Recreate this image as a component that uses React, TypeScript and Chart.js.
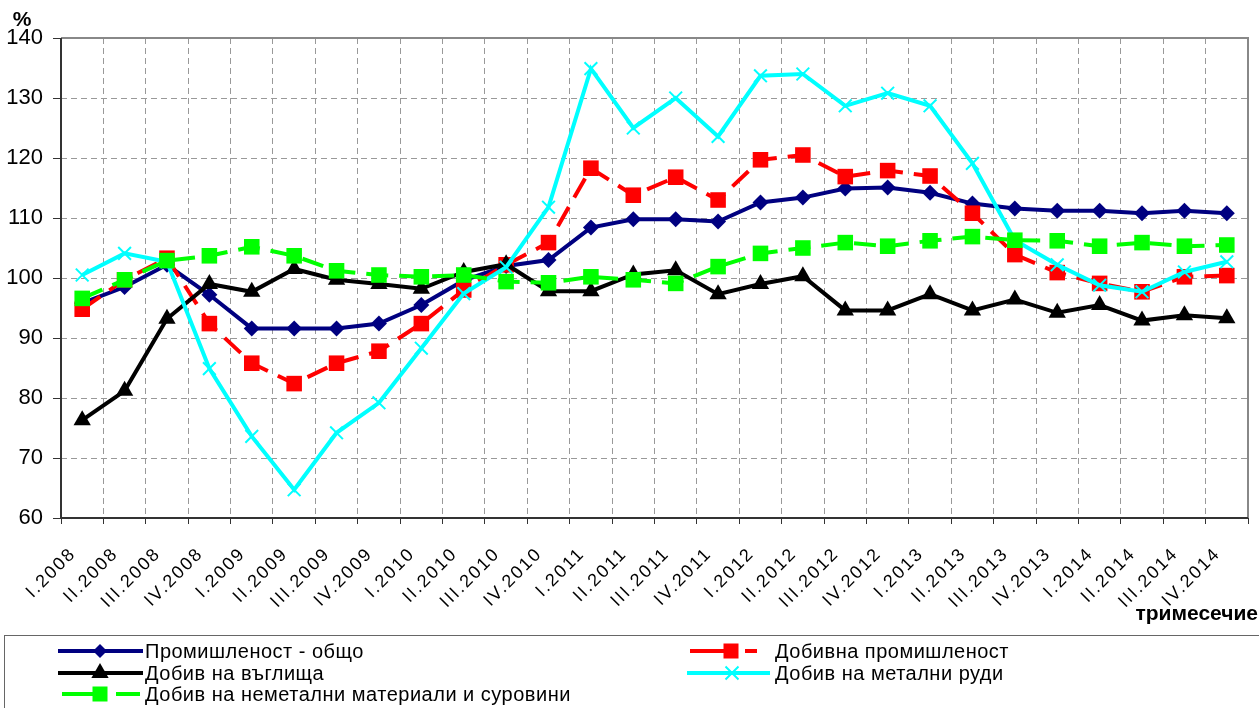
import React, { useEffect, useRef } from 'react';
import { Chart, registerables } from 'chart.js';

Chart.register(...registerables);

const quarters = ['I.2008','II.2008','III.2008','IV.2008','I.2009','II.2009','III.2009','IV.2009','I.2010','II.2010','III.2010','IV.2010','I.2011','II.2011','III.2011','IV.2011','I.2012','II.2012','III.2012','IV.2012','I.2013','II.2013','III.2013','IV.2013','I.2014','II.2014','III.2014','IV.2014'];

const industryTotal = [95.8, 98.5, 102.2, 97.2, 91.6, 91.6, 91.6, 92.4, 95.5, 99.6, 102.0, 103.0, 108.4, 109.8, 109.8, 109.4, 112.6, 113.4, 114.9, 115.1, 114.2, 112.4, 111.6, 111.2, 111.2, 110.8, 111.2, 110.8];
const miningIndustry = [94.8, 99.7, 103.3, 92.4, 85.8, 82.4, 85.8, 87.8, 92.4, 98.0, 102.2, 105.9, 118.3, 113.8, 116.8, 113.0, 119.7, 120.5, 116.9, 117.9, 117.0, 110.8, 103.9, 100.9, 99.1, 97.7, 100.2, 100.4];
const coalMining = [76.3, 81.2, 93.2, 99.0, 97.7, 101.5, 99.7, 99.0, 98.2, 101.0, 102.3, 97.8, 97.8, 100.6, 101.3, 97.3, 99.0, 100.3, 94.6, 94.6, 97.3, 94.6, 96.4, 94.2, 95.5, 92.9, 93.8, 93.3];
const metalOres = [100.5, 104.1, 102.7, 84.9, 73.6, 64.7, 74.2, 79.2, 88.3, 97.4, 101.8, 111.8, 134.9, 125.0, 130.0, 123.6, 133.7, 134.0, 128.7, 130.8, 128.7, 119.1, 106.3, 102.2, 98.8, 97.7, 101.0, 102.7];
const nonMetal = [96.6, 99.7, 102.9, 103.7, 105.2, 103.7, 101.2, 100.5, 100.2, 100.5, 99.4, 99.2, 100.2, 99.7, 99.1, 101.9, 104.1, 105.0, 105.9, 105.3, 106.2, 106.9, 106.3, 106.2, 105.3, 105.9, 105.3, 105.5];

const seriesNames = [
  'Промишленост - общо',
  'Добивна промишленост',
  'Добив на въглища',
  'Добив на метални руди',
  'Добив на неметални материали и суровини',
];
const yTicks = [60, 70, 80, 90, 100, 110, 120, 130, 140];
const yUnit = '%';
const xTitle = 'тримесечие';

const NAVY = '#000080';
const RED = '#FF0000';
const BLACK = '#000000';
const CYAN = '#00FFFF';
const GREEN = '#00FF00';
const FONT = '"Liberation Sans", Arial, sans-serif';
const GRID_DASH = [6, 4];

function diamond(ctx: CanvasRenderingContext2D, x: number, y: number, r: number, c: string) {
  ctx.fillStyle = c;
  ctx.beginPath();
  ctx.moveTo(x - r, y); ctx.lineTo(x, y - r); ctx.lineTo(x + r, y); ctx.lineTo(x, y + r);
  ctx.closePath(); ctx.fill();
}
function triangle(ctx: CanvasRenderingContext2D, x: number, y: number, r: number, c: string) {
  ctx.fillStyle = c;
  ctx.beginPath();
  ctx.moveTo(x, y - r);
  ctx.lineTo(x + r * 0.866, y + r / 2);
  ctx.lineTo(x - r * 0.866, y + r / 2);
  ctx.closePath(); ctx.fill();
}
function square(ctx: CanvasRenderingContext2D, x: number, y: number, s: number, c: string) {
  ctx.fillStyle = c;
  ctx.fillRect(x - s / 2, y - s / 2, s, s);
}
function cross(ctx: CanvasRenderingContext2D, x: number, y: number, h: number, c: string) {
  ctx.strokeStyle = c; ctx.lineWidth = 2;
  ctx.beginPath();
  ctx.moveTo(x - h, y - h); ctx.lineTo(x + h, y + h);
  ctx.moveTo(x - h, y + h); ctx.lineTo(x + h, y - h);
  ctx.stroke();
}
function seg(ctx: CanvasRenderingContext2D, x1: number, x2: number, y: number, c: string) {
  ctx.strokeStyle = c; ctx.lineWidth = 4; ctx.lineCap = 'butt';
  ctx.beginPath(); ctx.moveTo(x1, y); ctx.lineTo(x2, y); ctx.stroke();
}

const decorPlugin = {
  id: 'decor',
  beforeDatasetsDraw(chart: any) {
    const { ctx, chartArea: a } = chart;
    ctx.save();
    ctx.setLineDash([]);
    ctx.lineWidth = 2;
    ctx.strokeStyle = '#888888';
    ctx.beginPath();
    ctx.moveTo(a.left, a.top); ctx.lineTo(a.right, a.top); ctx.lineTo(a.right, a.bottom);
    ctx.stroke();
    ctx.strokeStyle = '#333333';
    ctx.beginPath();
    ctx.moveTo(a.left, a.top); ctx.lineTo(a.left, a.bottom); ctx.lineTo(a.right, a.bottom);
    ctx.stroke();
    ctx.restore();
  },
  afterDraw(chart: any) {
    const { ctx, chartArea: a, scales } = chart;
    const xs = scales.x;
    ctx.save();
    ctx.fillStyle = '#000';
    // x labels
    ctx.font = `18px ${FONT}`;
    (ctx as any).letterSpacing = '2px';
    ctx.textAlign = 'right';
    ctx.textBaseline = 'middle';
    quarters.forEach((q, i) => {
      const px = xs.getPixelForValue(i);
      ctx.save();
      ctx.translate(px - 9, a.bottom + 33);
      ctx.rotate(-Math.PI / 4);
      ctx.fillText(q, 0, 0);
      ctx.restore();
    });
    (ctx as any).letterSpacing = '0px';
    // unit and axis title
    ctx.font = `bold 21px ${FONT}`;
    ctx.textAlign = 'center';
    ctx.fillText(yUnit, 22, 20);
    ctx.font = `bold 21px ${FONT}`;
    ctx.textAlign = 'right';
    ctx.fillText(xTitle, 1258, 614);

    // legend box
    ctx.strokeStyle = '#666';
    ctx.lineWidth = 1;
    ctx.strokeRect(4.5, 635.5, 1262, 80);
    const rows = [651, 673, 694];
    // col1
    seg(ctx, 58, 143, rows[0], NAVY); diamond(ctx, 100, rows[0], 7, NAVY);
    seg(ctx, 58, 143, rows[1], BLACK); triangle(ctx, 100, rows[1], 10, BLACK);
    seg(ctx, 62, 95, rows[2], GREEN); seg(ctx, 116, 140, rows[2], GREEN); square(ctx, 100, rows[2], 15, GREEN);
    // col2
    seg(ctx, 690, 726, rows[0], RED); seg(ctx, 745, 757, rows[0], RED); square(ctx, 731, rows[0], 15, RED);
    seg(ctx, 687, 770, rows[1], CYAN); cross(ctx, 732, rows[1], 6.5, CYAN);

    ctx.font = `20px ${FONT}`;
    (ctx as any).letterSpacing = '0.5px';
    ctx.textAlign = 'left';
    ctx.textBaseline = 'middle';
    ctx.fillStyle = '#000';
    ctx.fillText(seriesNames[0], 145, rows[0] + 1);
    ctx.fillText(seriesNames[2], 145, rows[1] + 1);
    ctx.fillText(seriesNames[4], 145, rows[2] + 1);
    ctx.fillText(seriesNames[1], 775, rows[0] + 1);
    ctx.fillText(seriesNames[3], 775, rows[1] + 1);
    (ctx as any).letterSpacing = '0px';
    ctx.restore();
  },
};

export default function App() {
  const ref = useRef<HTMLCanvasElement | null>(null);
  useEffect(() => {
    if (!ref.current) return;
    const dash = [22, 11];
    const chart = new Chart(ref.current, {
      type: 'line',
      data: {
        labels: quarters,
        datasets: [
          {
            label: seriesNames[0], data: industryTotal, borderColor: NAVY, backgroundColor: NAVY,
            borderWidth: 4, pointStyle: 'rectRot', pointRadius: 8, pointBorderWidth: 0, order: 5,
          },
          {
            label: seriesNames[1], data: miningIndustry, borderColor: RED, backgroundColor: RED,
            borderWidth: 4, borderDash: dash, pointStyle: 'rect', pointRadius: 11, pointBorderWidth: 0, order: 4,
          },
          {
            label: seriesNames[2], data: coalMining, borderColor: BLACK, backgroundColor: BLACK,
            borderWidth: 4, pointStyle: 'triangle', pointRadius: 10, pointBorderWidth: 0, order: 3,
          },
          {
            label: seriesNames[3], data: metalOres, borderColor: CYAN, backgroundColor: CYAN,
            borderWidth: 4, pointStyle: 'crossRot', pointRadius: 9, pointBorderWidth: 2, order: 2,
          },
          {
            label: seriesNames[4], data: nonMetal, borderColor: GREEN, backgroundColor: GREEN,
            borderWidth: 4, borderDash: dash, pointStyle: 'rect', pointRadius: 11, pointBorderWidth: 0, order: 1,
          },
        ],
      },
      options: {
        responsive: false,
        animation: false,
        devicePixelRatio: 1,
        layout: { padding: { left: 0, top: 38, right: 3, bottom: 72 } },
        plugins: { legend: { display: false }, tooltip: { enabled: false } },
        elements: { line: { tension: 0 } },
        scales: {
          x: {
            type: 'category',
            offset: true,
            grid: {
              offset: true, color: '#999999', lineWidth: 1, tickColor: '#333', tickLength: 6, drawTicks: true,
              borderDash: GRID_DASH, tickBorderDash: [],
            } as any,
            border: { display: true, width: 0, color: 'rgba(0,0,0,0)', dash: GRID_DASH },
            ticks: { display: false },
            afterFit: (s: any) => { s.height = 118; },
          },
          y: {
            min: 60,
            max: 140,
            afterBuildTicks: (s: any) => { s.ticks = yTicks.map((v) => ({ value: v })); },
            grid: {
              color: '#999999', lineWidth: 1, tickColor: '#333', tickLength: 8,
              borderDash: GRID_DASH, tickBorderDash: [],
            } as any,
            border: { display: true, width: 0, color: 'rgba(0,0,0,0)', dash: GRID_DASH },
            ticks: { color: '#000', font: { size: 22, family: FONT }, padding: 10 },
            afterFit: (s: any) => { s.width = 61; },
          },
        },
      },
      plugins: [decorPlugin],
    });
    return () => chart.destroy();
  }, []);
  return (
    <div style={{ position: 'absolute', left: 0, top: 0, width: 1259, height: 708, background: '#fff' }}>
      <canvas ref={ref} width={1259} height={708} style={{ display: 'block' }} />
    </div>
  );
}
